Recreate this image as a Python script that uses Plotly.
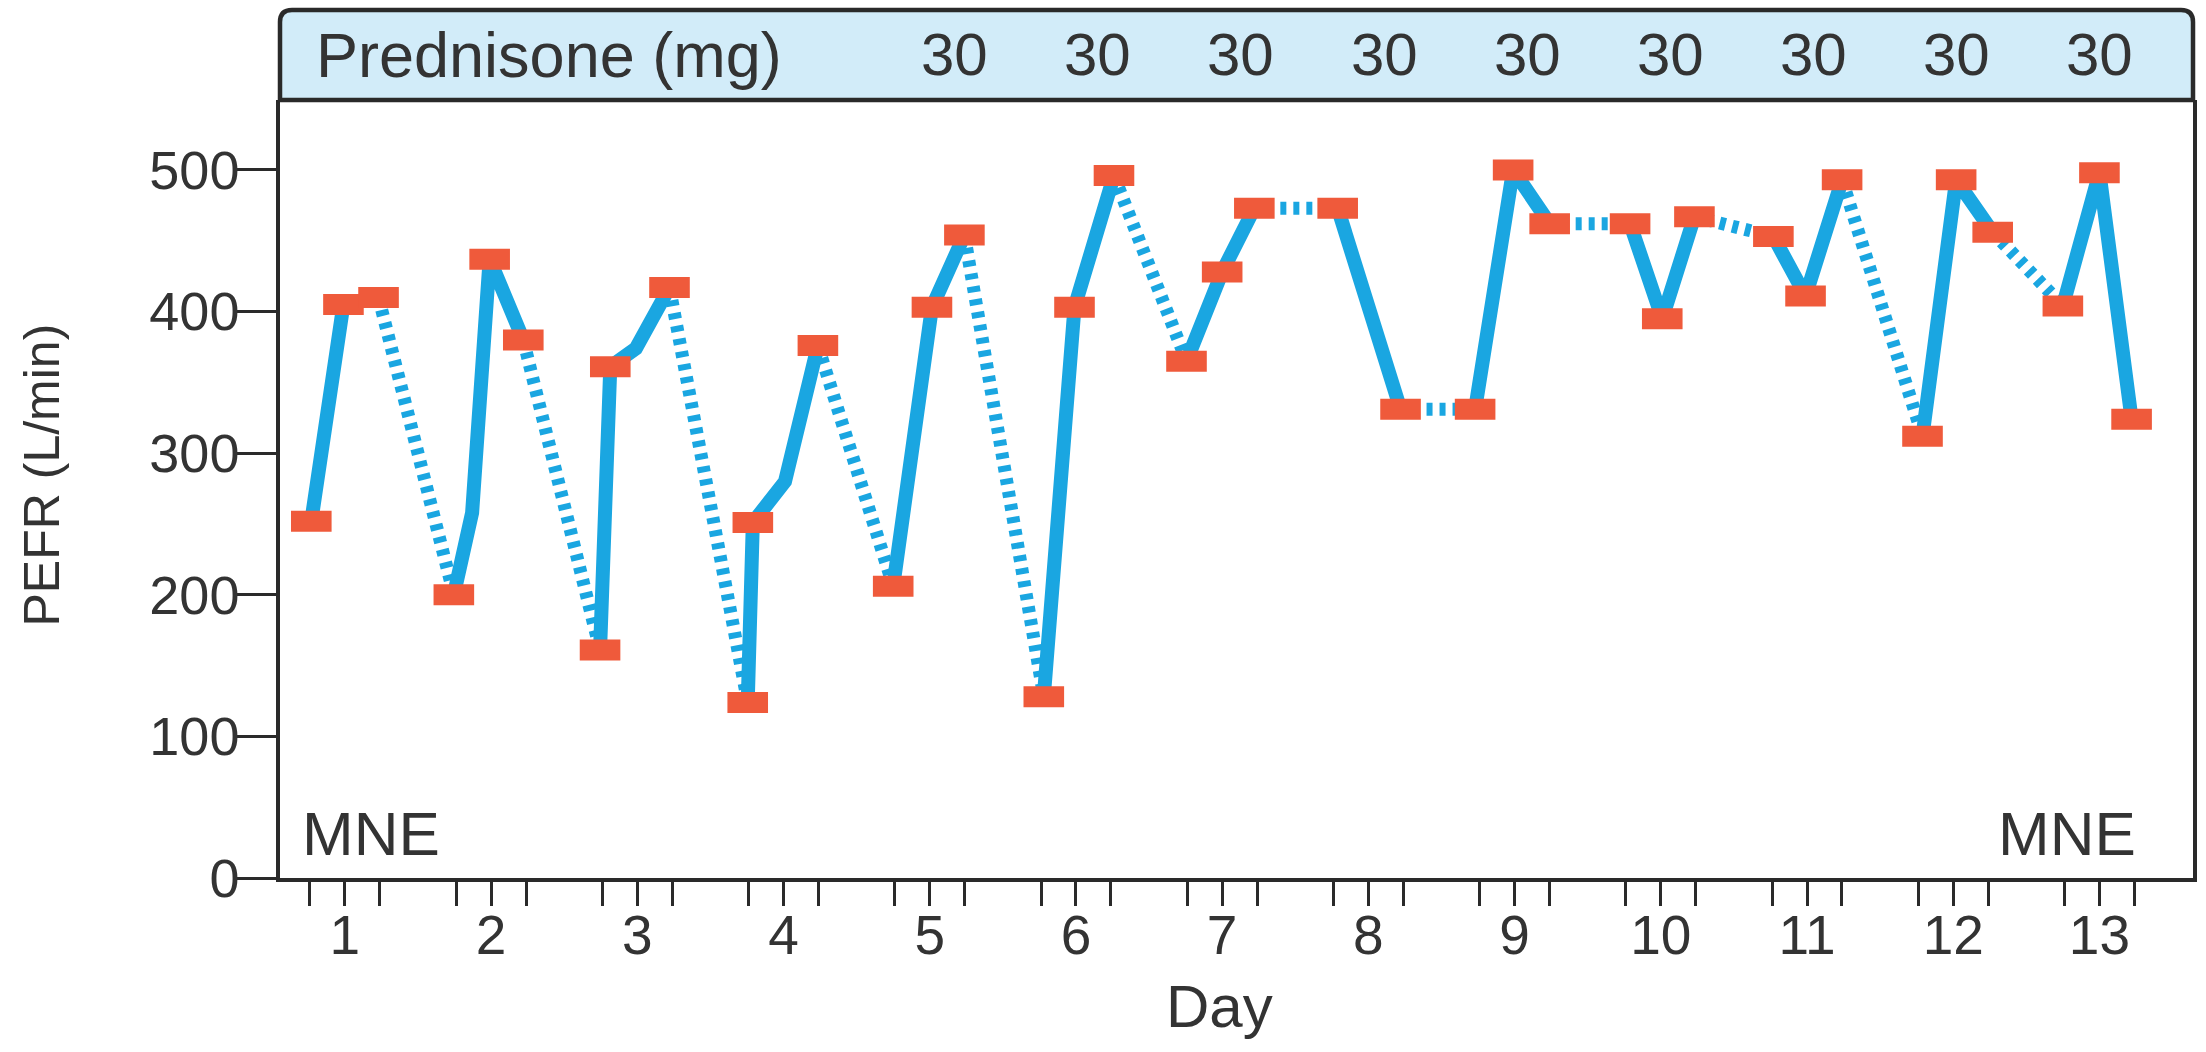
import plotly.graph_objects as go

# ---------------- data ----------------
days = list(range(1, 14))
day_labels = [str(d) for d in days]

# time of each reading (in days), PEFR value, whether a reading marker is drawn, day it belongs to
t_day = [0.77, 0.99, 1.23,
         1.745, 1.87, 1.99, 2.22,
         2.745, 2.815, 2.99, 3.22,
         3.755, 3.79, 4.01, 4.235,
         4.75, 5.015, 5.237,
         5.78, 5.99, 6.26,
         6.756, 7.0, 7.22,
         7.79, 8.22,
         8.73, 8.99, 9.24,
         9.79, 10.01, 10.23,
         10.77, 10.99, 11.24,
         11.79, 12.02, 12.27,
         12.75, 13.0, 13.22]
pefr = [252, 405, 410,
        200, 258, 437, 380,
        161, 361, 374, 417,
        124, 251, 280, 376,
        206, 403, 454,
        128, 403, 496,
        365, 428, 473,
        473, 331,
        331, 500, 462,
        462, 395, 467,
        453, 411, 493,
        312, 493, 456,
        404, 498, 324]
is_reading = [1, 1, 1, 1, 0, 1, 1, 1, 1, 0, 1, 1, 1, 0, 1, 1, 1, 1, 1, 1, 1,
              1, 1, 1, 1, 1, 1, 1, 1, 1, 1, 1, 1, 1, 1, 1, 1, 1, 1, 1, 1]
day_of = [1, 1, 1, 2, 2, 2, 2, 3, 3, 3, 3, 4, 4, 4, 4, 5, 5, 5, 6, 6, 6,
          7, 7, 7, 8, 8, 9, 9, 9, 10, 10, 10, 11, 11, 11, 12, 12, 12, 13, 13, 13]

dose_days = [5, 6, 7, 8, 9, 10, 11, 12, 13]
dose_mg = [30, 30, 30, 30, 30, 30, 30, 30, 30]

y_ticks = [0, 100, 200, 300, 400, 500]

# ---------------- styles ----------------
BLUE = "#1aa6e1"
ORANGE = "#ef5a3b"
DARK = "#2a2a2a"
TXT = "#333333"
HEADER_FILL = "#d2ecf9"
FONT = "Liberation Sans, Arial, sans-serif"

# build solid (within-day) and dotted (between-day) paths
sx, sy, dx, dy = [], [], [], []
for i in range(len(t_day)):
    if i > 0 and day_of[i] != day_of[i - 1]:
        sx.append(None); sy.append(None)
        dx += [t_day[i - 1], t_day[i], None]
        dy += [pefr[i - 1], pefr[i], None]
    sx.append(t_day[i]); sy.append(pefr[i])

mx = [t for t, r in zip(t_day, is_reading) if r]
my = [v for v, r in zip(pefr, is_reading) if r]

fig = go.Figure()
fig.add_trace(go.Scatter(x=dx, y=dy, mode="lines",
                         line=dict(color=BLUE, width=13, dash="6px,7px"),
                         hoverinfo="skip", showlegend=False))
fig.add_trace(go.Scatter(x=sx, y=sy, mode="lines",
                         line=dict(color=BLUE, width=14),
                         hoverinfo="skip", showlegend=False))
fig.add_trace(go.Scatter(x=mx, y=my, mode="markers",
                         marker=dict(symbol="line-ew", size=29,
                                     line=dict(width=21, color=ORANGE)),
                         showlegend=False))

# plot geometry
W, H = 2206, 1052
ML, MR, MT, MB = 280, 9, 100, 174
PW, PH = W - ML - MR, H - MT - MB
hdr_top = 1 + 90 / PH
rx, ry = 12 / PW, 12 / PH

header_path = (f"M 0,1 L 0,{hdr_top - ry} Q 0,{hdr_top} {rx},{hdr_top} "
               f"L {1 - rx},{hdr_top} Q 1,{hdr_top} 1,{hdr_top - ry} L 1,1 Z")

minor_vals = [d - 0.239 for d in days] + [d + 0.239 for d in days]

annotations = []
hdr_mid = 1 + 45 / PH
annotations.append(dict(text="Prednisone (mg)", xref="paper", yref="paper",
                        x=(314 - ML) / PW, y=hdr_mid, xanchor="left", yanchor="middle",
                        showarrow=False, font=dict(size=63, color=TXT, family=FONT)))
for d, mg in zip(dose_days, dose_mg):
    annotations.append(dict(text=str(mg), xref="x", yref="paper",
                            x=5.17 + (d - 5) * 0.979, y=hdr_mid, xanchor="center", yanchor="middle",
                            showarrow=False, font=dict(size=60, color=TXT, family=FONT)))
annotations.append(dict(text="MNE", xref="paper", yref="paper", x=(300 - ML) / PW, y=8 / PH,
                        xanchor="left", yanchor="bottom", showarrow=False,
                        font=dict(size=62, color=TXT, family=FONT)))
annotations.append(dict(text="MNE", xref="paper", yref="paper", x=(2142 - ML) / PW, y=8 / PH,
                        xanchor="right", yanchor="bottom", showarrow=False,
                        font=dict(size=62, color=TXT, family=FONT)))
annotations.append(dict(text="PEFR (L/min)", xref="paper", yref="paper",
                        x=(42 - ML) / PW, y=(878 - 475) / PH, textangle=-90,
                        xanchor="center", yanchor="middle", showarrow=False,
                        font=dict(size=50, color=TXT, family=FONT)))
annotations.append(dict(text="Day", xref="paper", yref="paper",
                        x=(1221 - ML) / PW, y=(878 - 1006) / PH,
                        xanchor="center", yanchor="middle", showarrow=False,
                        font=dict(size=60, color=TXT, family=FONT)))

fig.update_layout(
    width=W, height=H,
    margin=dict(l=ML, r=MR, t=MT, b=MB),
    paper_bgcolor="white", plot_bgcolor="white",
    font=dict(family=FONT, color=TXT),
    shapes=[dict(type="path", path=header_path, xref="paper", yref="paper",
                 fillcolor=HEADER_FILL, line=dict(color=DARK, width=4.5), layer="above")],
    annotations=annotations,
    xaxis=dict(range=[0.556, 13.64], tickmode="array", tickvals=days, ticktext=day_labels,
               ticks="outside", ticklen=24, tickwidth=3, tickcolor=DARK,
               showline=True, linewidth=3.5, linecolor=DARK,
               showgrid=False, zeroline=False, ticklabelstandoff=-18,
               tickfont=dict(size=55, color=TXT, family=FONT),
               minor=dict(tickmode="array", tickvals=minor_vals, ticks="outside",
                          ticklen=24, tickwidth=3, tickcolor=DARK, showgrid=False)),
    yaxis=dict(range=[0, 549.4], tickmode="array", tickvals=y_ticks,
               ticks="outside", ticklen=42, tickwidth=3, tickcolor=DARK,
               showline=True, linewidth=3.5, linecolor=DARK, mirror=True,
               showgrid=False, zeroline=False, ticklabelstandoff=-16,
               tickfont=dict(size=54, color=TXT, family=FONT)),
)

fig.write_html("out.html")
